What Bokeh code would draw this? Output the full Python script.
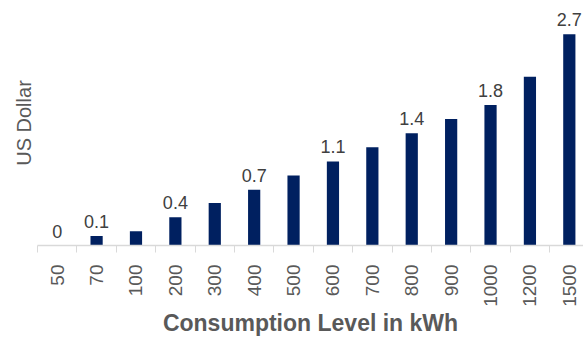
import numpy as np
from bokeh.plotting import figure
from bokeh.models import Range1d, FixedTicker, ColumnDataSource
from bokeh.core.properties import value
from bokeh.embed import file_html
from bokeh.resources import INLINE

# Data
categories = ["50", "70", "100", "200", "300", "400", "500", "600", "700",
              "800", "900", "1000", "1200", "1500"]
cost_usd = [0.0, 0.12, 0.18, 0.36, 0.54, 0.71, 0.89, 1.07, 1.25, 1.43,
            1.61, 1.79, 2.15, 2.69]
data_labels = ["0", "0.1", "", "0.4", "", "0.7", "", "1.1", "", "1.4", "",
               "1.8", "", "2.7"]

FONT = "Liberation Sans"
n = len(categories)
centers = np.arange(n) + 0.5
bounds = np.arange(n + 1).astype(float)

src = ColumnDataSource(dict(x=centers, y=cost_usd, lab=data_labels))

p = figure(width=583, height=338, output_backend="svg", toolbar_location=None,
           x_range=Range1d(0, 13.86), y_range=Range1d(0, 3.12),
           min_border_left=37, min_border_right=0, min_border_top=0,
           min_border_bottom=0)
p.outline_line_color = None
p.xgrid.visible = False
p.ygrid.visible = False

p.vbar(x="x", top="y", width=0.31, bottom=0, source=src,
       fill_color="#002060", line_color=None)
p.text(x="x", y="y", text="lab", source=src, text_align="center",
       text_baseline="bottom", y_offset=-8, text_font=value(FONT),
       text_font_size="18px", text_color="#404040")

# x axis
xa = p.xaxis[0]
xa.ticker = FixedTicker(ticks=list(centers), minor_ticks=list(bounds))
xa.major_label_overrides = {float(c): cat for c, cat in zip(centers, categories)}
xa.major_label_orientation = np.pi / 2
xa.major_tick_line_color = None
xa.major_tick_out = 0
xa.major_tick_in = 0
xa.minor_tick_line_color = "#d9d9d9"
xa.minor_tick_out = 7
xa.minor_tick_in = 0
xa.axis_line_color = "#d9d9d9"
xa.axis_line_width = 1.5
xa.major_label_standoff = 12
xa.major_label_text_font = FONT
xa.major_label_text_font_size = "19px"
xa.major_label_text_color = "#595959"
xa.axis_label = "Consumption Level in kWh"
xa.axis_label_text_font = FONT
xa.axis_label_text_font_size = "23px"
xa.axis_label_text_font_style = "bold"
xa.axis_label_text_color = "#595959"
xa.axis_label_standoff = 0

# y axis (label only)
ya = p.yaxis[0]
ya.ticker = FixedTicker(ticks=[])
ya.axis_line_color = None
ya.major_tick_line_color = None
ya.minor_tick_line_color = None
ya.major_tick_out = 0
ya.major_tick_in = 0
ya.minor_tick_out = 0
ya.major_label_standoff = 0
ya.axis_label = "US Dollar"
ya.axis_label_text_font = FONT
ya.axis_label_text_font_size = "20px"
ya.axis_label_text_font_style = "normal"
ya.axis_label_text_color = "#595959"
ya.axis_label_standoff = 3

open("out.html", "w").write(file_html(p, INLINE))
